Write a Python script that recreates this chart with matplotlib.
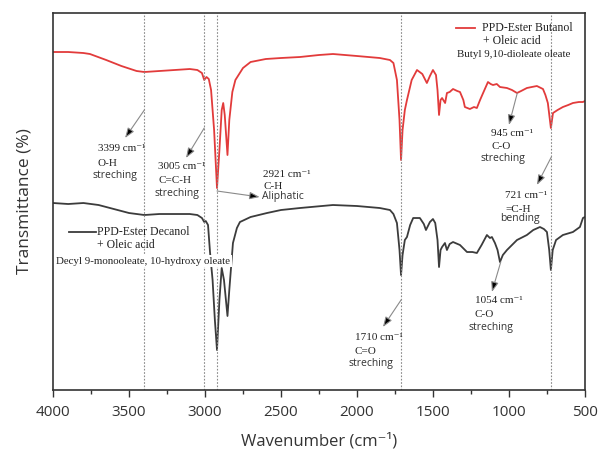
import numpy as np
import matplotlib.pyplot as plt

plt.rcParams['font.family'] = ['Open Sans', 'DejaVu Sans']

# FTIR spectra (wavenumber, relative transmittance)
wn_butanol = [4000, 3900, 3800, 3757, 3650, 3550, 3450, 3399, 3300, 3200, 3100, 3050,
              3020, 3005, 2990, 2975, 2960, 2940, 2921, 2905, 2890, 2880, 2870, 2852,
              2840, 2820, 2800, 2750, 2700, 2600, 2500, 2375, 2250, 2158, 2000, 1850,
              1783, 1760, 1737, 1720, 1710, 1700, 1685, 1671, 1640, 1605, 1570, 1540,
              1520, 1500, 1480, 1470, 1460, 1450, 1440, 1420, 1408, 1390, 1368, 1340,
              1322, 1300, 1290, 1257, 1230, 1211, 1190, 1170, 1138, 1120, 1105, 1080,
              1059, 1013, 980, 947, 920, 882, 850, 816, 776, 760, 744, 724, 710, 680,
              645, 610, 579, 540, 513, 500]
t_butanol = [338, 338, 337, 336, 330, 324, 319, 318, 319, 320, 321, 320,
             317, 310, 313, 311, 300, 260, 202, 240, 280, 287, 275, 235,
             270, 298, 310, 322, 328, 331, 332, 333, 335, 336, 334, 332,
             330, 327, 310, 270, 230, 260, 280, 290, 310, 320, 316, 307,
             314, 320, 315, 300, 275, 290, 292, 287, 297, 298, 301, 299,
             298, 290, 283, 281, 283, 282, 290, 297, 308, 306, 305, 306,
             303, 302, 300, 297, 299, 302, 303, 304, 301, 295, 287, 262, 277, 280,
             283, 285, 287, 288, 288, 289]

wn_decanol = [4000, 3900, 3800, 3700, 3600, 3500, 3399, 3300, 3200, 3100, 3050, 3020,
              3005, 2995, 2980, 2967, 2950, 2935, 2921, 2905, 2890, 2875, 2852, 2840,
              2816, 2790, 2770, 2700, 2592, 2500, 2375, 2158, 2000, 1850, 1783, 1760,
              1737, 1720, 1710, 1700, 1685, 1671, 1650, 1630, 1586, 1560, 1546, 1520,
              1500, 1485, 1470, 1460, 1450, 1440, 1421, 1408, 1390, 1368, 1322, 1276,
              1240, 1211, 1180, 1145, 1125, 1112, 1092, 1075, 1059, 1040, 1013, 980,
              947, 882, 840, 796, 770, 750, 735, 724, 712, 690, 645, 579, 533, 513, 500]
t_decanol = [187, 186, 187, 185, 181, 177, 175, 176, 176, 176, 175, 172,
             168, 169, 165, 138, 110, 70, 40, 90, 122, 110, 74, 100,
             147, 162, 168, 173, 177, 180, 182, 185, 184, 182, 180, 176,
             167, 140, 115, 135, 150, 153, 165, 172, 172, 166, 160, 168,
             171, 167, 150, 123, 140, 143, 147, 140, 146, 148, 145, 138,
             138, 137, 145, 155, 152, 153, 147, 140, 128, 135, 140, 145,
             150, 155, 160, 163, 161, 158, 140, 120, 140, 150, 155, 158, 163, 172, 173]

# assigned bands (dotted guide lines)
bands = [3399, 3005, 2921, 1710, 721]

red = '#e23b3b'
dark = '#3c3c3c'
serif = ['Liberation Serif', 'DejaVu Serif']

fig = plt.figure(figsize=(5.99, 4.5), dpi=100)
ax = fig.add_axes([0.0885, 0.1333, 0.888, 0.8378])

ax.plot(wn_butanol, t_butanol, color=red, lw=1.3)
ax.plot(wn_decanol, t_decanol, color=dark, lw=1.3)

for b in bands:
    ax.axvline(b, color='#8a8a8a', ls=(0, (1.5, 1.5)), lw=0.8)

ax.set_xlim(4000, 500)
ax.set_ylim(0, 377)
ax.set_xticks(np.arange(4000, 499, -500))
ax.set_xticks(np.arange(3750, 500, -500), minor=True)
ax.set_yticks([])
ax.tick_params(axis='x', which='major', length=5, width=1, colors='#333333',
               labelsize=11, pad=6)
ax.tick_params(axis='x', which='minor', length=3, width=1, color='#333333')
for s in ax.spines.values():
    s.set_color('#333333')
    s.set_linewidth(1.2)

ax.set_xlabel('Wavenumber (cm⁻¹)', fontsize=12, color='#333333', labelpad=9)
ax.set_ylabel('Transmittance (%)', fontsize=12.5, color='#333333', labelpad=15)

# annotations: (tail, head, [(x, y, text, style), ...])
notes = [
    ((3399, 280), (3526, 252), [(3704, 242, '3399 cm⁻¹', 's'), (3704, 227, 'O-H', 's'),
                                (3737, 215, 'streching', 'a')]),
    ((3005, 262), (3125, 232), [(3309, 224, '3005 cm⁻¹', 's'), (3309, 210, 'C=C-H', 's'),
                                (3329, 197, 'streching', 'a')]),
    ((2921, 199), (2640, 193), [(2618, 216, '2921 cm⁻¹', 's'), (2618, 204, 'C-H', 's'),
                                (2625, 194, 'Aliphatic', 'a')]),
    ((945, 297), (1000, 265), [(1118, 257, '945 cm⁻¹', 's'), (1118, 244, 'C-O', 's'),
                               (1184, 232, 'streching', 'a')]),
    ((721, 233), (816, 205), [(1026, 195, '721 cm⁻¹', 's'), (1026, 181, '=C-H', 's'),
                              (1059, 172, 'bending', 'a')]),
    ((1710, 90), (1829, 63), [(2013, 53, '1710 cm⁻¹', 's'), (2013, 39, 'C=O', 's'),
                              (2053, 27, 'streching', 'a')]),
    ((1054, 128), (1112, 98), [(1224, 90, '1054 cm⁻¹', 's'), (1224, 76, 'C-O', 's'),
                               (1263, 63, 'streching', 'a')]),
]
for tail, head, lines in notes:
    ax.annotate('', xy=head, xytext=tail,
                arrowprops=dict(arrowstyle='-|>,head_length=0.6,head_width=0.22',
                                ec='#8a8a8a', fc='black', lw=0.8, shrinkA=0, shrinkB=0))
    for x, y, txt, st in lines:
        if st == 's':
            ax.text(x, y, txt, family=serif, fontsize=8, color='#222222',
                    ha='left', va='center')
        else:
            ax.text(x, y, txt, fontsize=7.5, color='#333333', ha='left', va='center')

# legend-like labels
ax.plot([0.7575, 0.7932], [0.960, 0.960], color=red, lw=1.3, transform=ax.transAxes)
ax.text(0.806, 0.960, 'PPD-Ester Butanol', family=serif, fontsize=8.5,
        transform=ax.transAxes, va='center', color='#222222')
ax.text(0.808, 0.926, '+ Oleic acid', family=serif, fontsize=8.5,
        transform=ax.transAxes, va='center', color='#222222')
ax.text(0.759, 0.889, 'Butyl 9,10-dioleate oleate', family=serif, fontsize=7.8,
        transform=ax.transAxes, va='center', color='#222222')

ax.plot([0.030, 0.080], [0.419, 0.419], color=dark, lw=1.3, transform=ax.transAxes)
ax.text(0.082, 0.419, 'PPD-Ester Decanol', family=serif, fontsize=8.5,
        transform=ax.transAxes, va='center', color='#222222')
ax.text(0.082, 0.385, '+ Oleic acid', family=serif, fontsize=8.5,
        transform=ax.transAxes, va='center', color='#222222')
ax.text(0.006, 0.342, 'Decyl 9-monooleate, 10-hydroxy oleate', family=serif, fontsize=7.8,
        transform=ax.transAxes, va='center', color='#222222',
        bbox=dict(fc='white', ec='none', pad=1.0))

fig.savefig('out.png', dpi=100)
